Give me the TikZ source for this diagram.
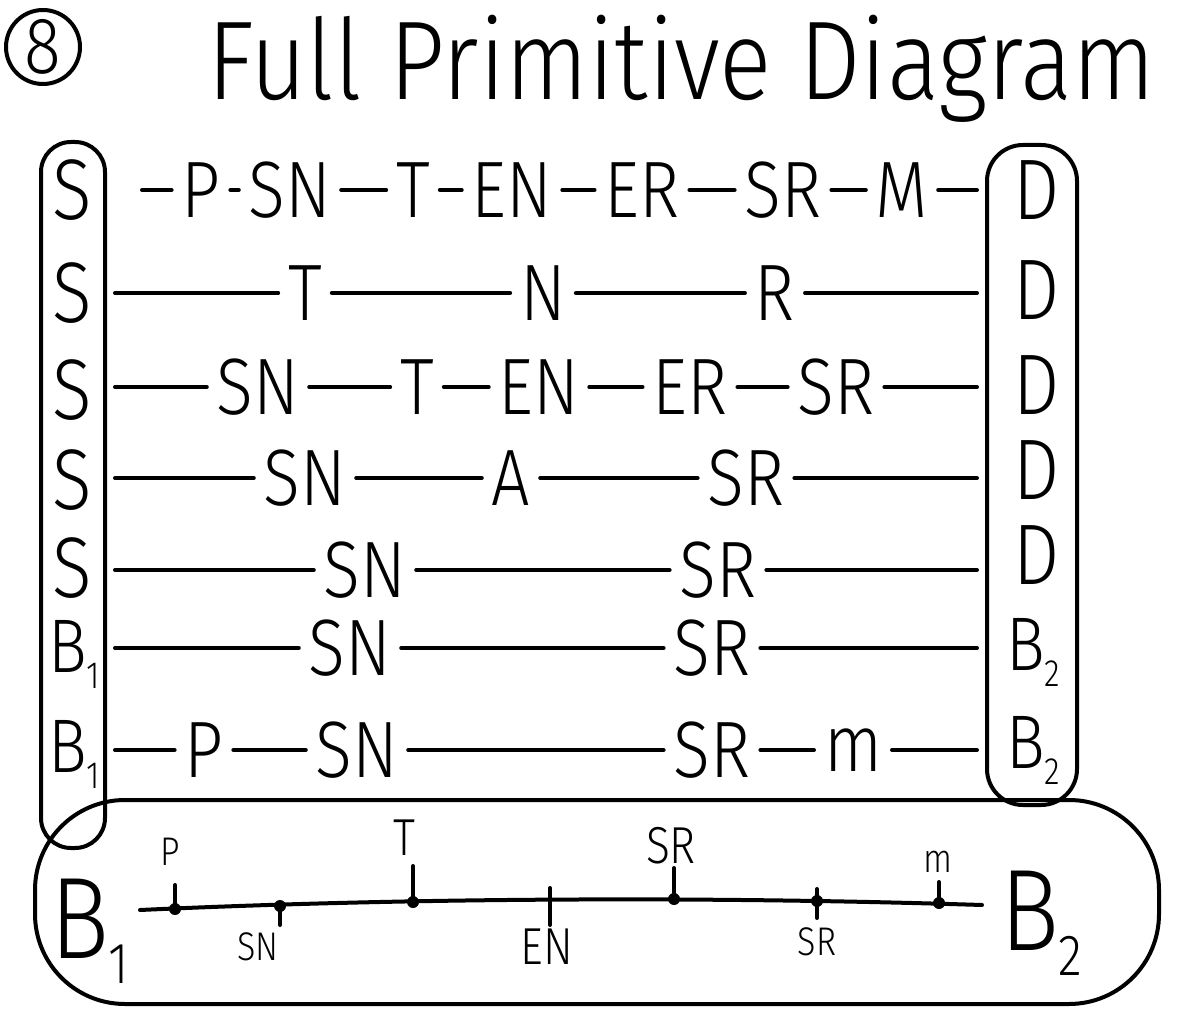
\documentclass[tikz,border=0pt]{standalone}
\usepackage{graphicx}
\usepackage{fontspec}
\setmainfont{Fira Sans}[UprightFont=* Light, FakeStretch=0.85]
\newfontfamily\titlefont{Fira Sans}[UprightFont=* Light, FakeStretch=0.87]
\newcommand{\lowidx}[1]{\raisebox{-0.22em}{\scalebox{0.5}{#1}}}
\begin{document}
\begin{tikzpicture}[x=0.5pt,y=-0.5pt,line width=2pt,line cap=round,line join=round,
  rowtxt/.style={inner sep=0pt,font=\fontsize{40}{44}\selectfont},
  sidetxt/.style={inner sep=0pt,font=\fontsize{43}{46}\selectfont},
  btxt/.style={inner sep=0pt,font=\fontsize{38}{42}\selectfont},
  bigtxt/.style={inner sep=0pt,font=\fontsize{58}{62}\selectfont},
  smalltxt/.style={inner sep=0pt,font=\fontsize{20}{22}\selectfont},
  midtxt/.style={inner sep=0pt,font=\fontsize{26}{28}\selectfont},
  conn/.style={shorten <=4pt,shorten >=4pt},
  tickdot/.style={circle,fill,inner sep=0pt,minimum size=6pt},
  pill/.style={draw,line width=2pt,inner sep=0pt}]
\useasboundingbox (0,0) rectangle (1193,1015);

% title
\node[draw,circle,minimum size=37pt,inner sep=0pt,font=\fontsize{40}{42}\selectfont] (eight) at (43,47) {8};
\node[anchor=base west,inner sep=0pt,font=\titlefont\fontsize{56}{60}\selectfont] (title) at (205,100) {Full Primitive Diagram};

% enclosures
\node[pill,rounded corners=15pt,minimum width=32pt,minimum height=353pt] (lp) at (73,495) {};
\node[pill,rounded corners=18pt,minimum width=45pt,minimum height=330pt] (rp) at (1032,475) {};
\node[pill,rounded corners=45pt,minimum width=562pt,minimum height=102pt] (blob) at (597,902) {};

% row 1
\node[sidetxt] (s1) at (72,190) {S};
\node[sidetxt] (d1) at (1037,190) {D};
\coordinate (r1a) at (142,190);
\node[rowtxt] (r1p) at (201,190) {P};
\node[rowtxt] (r1sn) at (290,190) {SN};
\node[rowtxt] (r1t) at (413,190) {T};
\node[rowtxt] (r1en) at (512,190) {EN};
\node[rowtxt] (r1er) at (642,190) {ER};
\node[rowtxt] (r1sr) at (783,190) {SR};
\node[rowtxt] (r1m) at (902,190) {M};
\draw[shorten >=4pt] (r1a) -- (r1p);
\draw[conn] (r1p) -- (r1sn);
\draw[conn] (r1sn) -- (r1t);
\draw[conn] (r1t) -- (r1en);
\draw[conn] (r1en) -- (r1er);
\draw[conn] (r1er) -- (r1sr);
\draw[conn] (r1sr) -- (r1m);
\draw[conn] (r1m) -- (rp.west |- r1m);

% row 2
\node[sidetxt] (s2) at (72,293) {S};
\node[sidetxt] (d2) at (1037,290) {D};
\node[rowtxt] (r2t) at (305,293) {T};
\node[rowtxt] (r2n) at (543,293) {N};
\node[rowtxt] (r2r) at (775,293) {R};
\draw[conn] (lp.east |- r2t) -- (r2t);
\draw[conn] (r2t) -- (r2n);
\draw[conn] (r2n) -- (r2r);
\draw[conn] (r2r) -- (rp.west |- r2r);

% row 3
\node[sidetxt] (s3) at (72,390) {S};
\node[sidetxt] (d3) at (1037,385) {D};
\node[rowtxt] (r3sn) at (258,387) {SN};
\node[rowtxt] (r3t) at (417,387) {T};
\node[rowtxt] (r3en) at (539,387) {EN};
\node[rowtxt] (r3er) at (690,387) {ER};
\node[rowtxt] (r3sr) at (836,387) {SR};
\draw[conn] (lp.east |- r3sn) -- (r3sn);
\draw[conn] (r3sn) -- (r3t);
\draw[conn] (r3t) -- (r3en);
\draw[conn] (r3en) -- (r3er);
\draw[conn] (r3er) -- (r3sr);
\draw[conn] (r3sr) -- (rp.west |- r3sr);

% row 4
\node[sidetxt] (s4) at (72,480) {S};
\node[sidetxt] (d4) at (1037,470) {D};
\node[rowtxt] (r4sn) at (305,478) {SN};
\node[rowtxt] (r4a) at (511,478) {A};
\node[rowtxt] (r4sr) at (746,478) {SR};
\draw[conn] (lp.east |- r4sn) -- (r4sn);
\draw[conn] (r4sn) -- (r4a);
\draw[conn] (r4a) -- (r4sr);
\draw[conn] (r4sr) -- (rp.west |- r4sr);

% row 5
\node[sidetxt] (s5) at (72,568) {S};
\node[sidetxt] (d5) at (1037,555) {D};
\node[rowtxt] (r5sn) at (365,570) {SN};
\node[rowtxt] (r5sr) at (718,570) {SR};
\draw[conn] (lp.east |- r5sn) -- (r5sn);
\draw[conn] (r5sn) -- (r5sr);
\draw[conn] (r5sr) -- (rp.west |- r5sr);

% row 6
\node[btxt,anchor=base west] (s6) at (46,672) {B\lowidx{1}};
\node[btxt,anchor=base west] (d6) at (1004,670) {B\lowidx{2}};
\node[rowtxt] (r6sn) at (350,648) {SN};
\node[rowtxt] (r6sr) at (712,648) {SR};
\draw[conn] (lp.east |- r6sn) -- (r6sn);
\draw[conn] (r6sn) -- (r6sr);
\draw[conn] (r6sr) -- (rp.west |- r6sr);

% row 7
\node[btxt,anchor=base west] (s7) at (46,772) {B\lowidx{1}};
\node[btxt,anchor=base west] (d7) at (1004,768) {B\lowidx{2}};
\node[rowtxt] (r7p) at (204,750) {P};
\node[rowtxt] (r7sn) at (357,750) {SN};
\node[rowtxt] (r7sr) at (712,750) {SR};
\node[rowtxt] (r7m) at (853,750) {m};
\draw[conn] (lp.east |- r7p) -- (r7p);
\draw[conn] (r7p) -- (r7sn);
\draw[conn] (r7sn) -- (r7sr);
\draw[conn] (r7sr) -- (r7m);
\draw[conn] (r7m) -- (rp.west |- r7m);

% bottom timeline
\node[bigtxt,anchor=base west] (b1) at (48,958) {B\lowidx{1}};
\node[bigtxt,anchor=base west] (b2) at (998,950) {B\lowidx{2}};
\coordinate (tl) at (140,910);
\coordinate (tr) at (982,905);
\draw (tl) .. controls (400,898) and (700,896) .. (tr);

\node[tickdot] (dp) at (175,909) {};
\coordinate (tp) at (175,885);
\draw (dp.center) -- (tp);
\node[smalltxt] (lpp) at (170,852) {P};

\node[tickdot] (dsn) at (280,906) {};
\coordinate (tsn) at (280,925);
\draw (dsn.center) -- (tsn);
\node[smalltxt] (lsn) at (258,947) {SN};

\node[tickdot] (dt) at (413,902) {};
\coordinate (tt) at (413,866);
\draw (dt.center) -- (tt);
\node[midtxt] (lt) at (404,838) {T};

\coordinate (den) at (550,888);
\coordinate (ten) at (550,925);
\draw (den) -- (ten);
\node[midtxt] (len) at (547,947) {EN};

\node[tickdot] (dsr) at (674,899) {};
\coordinate (tsr) at (674,868);
\draw (dsr.center) -- (tsr);
\node[midtxt] (lsr) at (671,846) {SR};

\node[tickdot] (dsr2) at (817,901) {};
\coordinate (tsr2) at (817,918);
\coordinate (usr2) at (817,889);
\draw (usr2) -- (tsr2);
\node[smalltxt] (lsr2) at (817,942) {SR};

\node[tickdot] (dm) at (939,903) {};
\coordinate (tm) at (939,882);
\draw (dm.center) -- (tm);
\node[smalltxt] (lm) at (938,862) {m};
\end{tikzpicture}
\end{document}
